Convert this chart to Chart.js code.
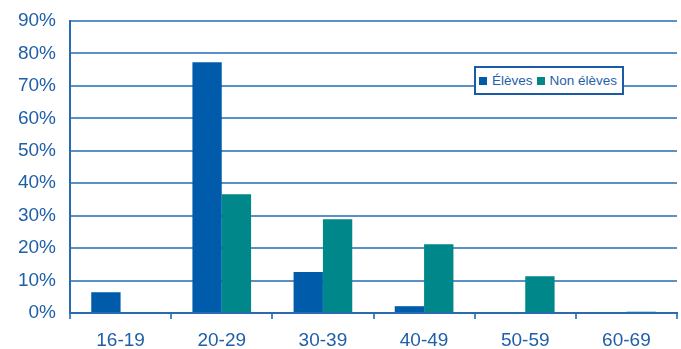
<!DOCTYPE html>
<html>
<head>
<meta charset="utf-8">
<script src="https://cdn.jsdelivr.net/npm/chart.js@4/dist/chart.umd.min.js"></script>
<style>
  body { margin: 0; background: #fff; }
  #wrap { position: relative; width: 681px; height: 349px; }
  #legende {
    position: absolute; left: 474px; top: 66px; width: 150px; height: 29px;
    box-sizing: border-box; border: 2px solid #1a5aa6; background: #fff;
    font: 13.5px "Liberation Sans", Arial, sans-serif; color: #1f5fa8;
    display: flex; align-items: center; padding-left: 3px; white-space: nowrap;
  }
  #legende span.carre { display: inline-block; width: 8px; height: 8px; margin-right: 5px; }
  #legende span.item { display: inline-flex; align-items: center; margin-right: 4px; }
</style>
</head>
<body>
<div id="wrap">
  <canvas id="graphe" width="681" height="349"></canvas>
  <div id="legende"></div>
</div>
<script>
// tranches d'âge
var categories = ['16-19', '20-29', '30-39', '40-49', '50-59', '60-69'];
// part (%) de chaque tranche
var eleves = [6.4, 77.3, 12.6, 2.1, 0, 0];
var nonEleves = [0, 36.6, 28.9, 21.2, 11.3, 0.4];
var series = ['Élèves', 'Non élèves'];
var couleurs = ['#005caa', '#00878a'];

var police = '"Liberation Sans", Arial, sans-serif';
var bleuTexte = '#1f5fa8';

var graphe = new Chart(document.getElementById('graphe'), {
  type: 'bar',
  data: {
    labels: categories,
    datasets: [
      { label: series[0], data: eleves, backgroundColor: couleurs[0] },
      { label: series[1], data: nonEleves, backgroundColor: couleurs[1] }
    ]
  },
  options: {
    responsive: false,
    animation: false,
    categoryPercentage: 0.58,
    barPercentage: 1,
    layout: { padding: { left: 10, right: 4, top: 21, bottom: 0 } },
    plugins: {
      legend: { display: false },
      tooltip: { enabled: false }
    },
    scales: {
      x: {
        grid: { drawOnChartArea: false, drawTicks: true, tickLength: 6, offset: true, color: '#4f87c4', lineWidth: 2 },
        border: { color: '#2a6ab0', width: 2 },
        ticks: { color: bleuTexte, font: { family: police, size: 19 }, padding: 10 },
        afterFit: function(scale) { scale.height = 36; }
      },
      y: {
        min: 0,
        max: 90,
        grid: { drawTicks: false, color: '#5a90c8', lineWidth: 2 },
        border: { color: '#2a6ab0', width: 2 },
        ticks: {
          stepSize: 10,
          color: bleuTexte,
          font: { family: police, size: 19 },
          padding: 14,
          callback: function(v) { return v + '%'; }
        },
        afterFit: function(scale) {
          scale.width = 60;
          scale.paddingTop = 0;
        }
      }
    }
  }
});

// légende encadrée, construite à partir des séries
var legende = document.getElementById('legende');
graphe.data.datasets.forEach(function(ds) {
  var item = document.createElement('span');
  item.className = 'item';
  var carre = document.createElement('span');
  carre.className = 'carre';
  carre.style.background = ds.backgroundColor;
  item.appendChild(carre);
  item.appendChild(document.createTextNode(ds.label));
  legende.appendChild(item);
});
</script>
</body>
</html>
